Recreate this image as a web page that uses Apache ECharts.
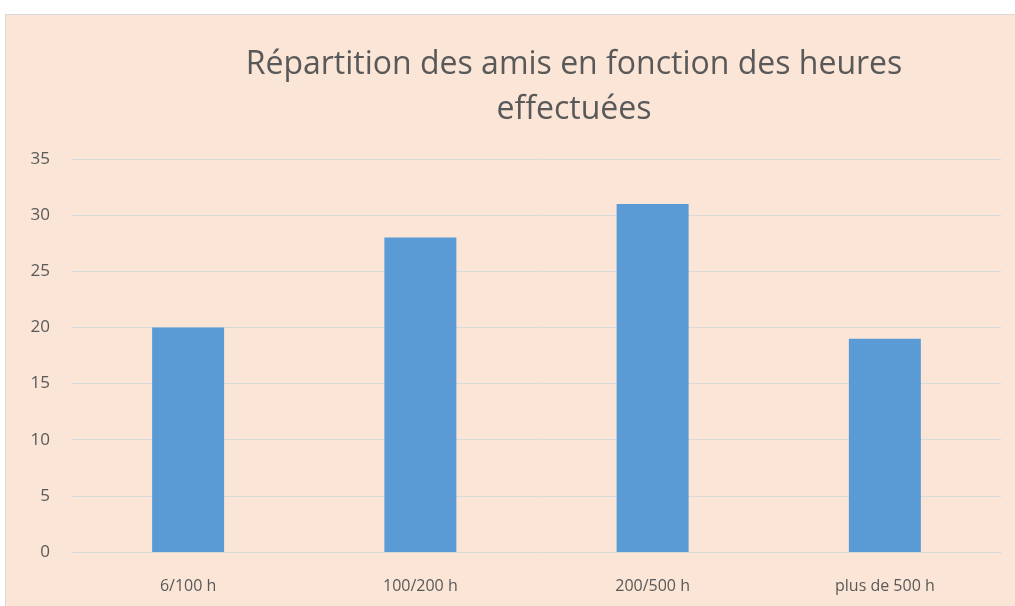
<!DOCTYPE html>
<html>
<head>
<meta charset="utf-8">
<script src="https://cdn.jsdelivr.net/npm/echarts@6/dist/echarts.min.js"></script>
<style>
html,body{margin:0;padding:0;background:#fff;width:1015px;height:606px;overflow:hidden;}
#c{position:absolute;left:5px;top:14px;width:1010px;height:592px;box-sizing:border-box;border-left:1px solid #D9D9D9;border-top:1px solid #D9D9D9;background:#FBE5D6;}
</style>
</head>
<body>
<div id="c"></div>
<script>
const titleText = 'Répartition des amis en fonction des heures\neffectuées';
const categories = ['6/100 h', '100/200 h', '200/500 h', 'plus de 500 h'];
const values = [20, 28, 31, 19];
const yTicks = {min: 0, max: 35, interval: 5};

const chart = echarts.init(document.getElementById('c'), null, {renderer: 'canvas'});
const FONT = '"Open Sans", "Noto Sans", sans-serif';
chart.setOption({
  backgroundColor: 'transparent',
  animation: false,
  title: {
    text: titleText,
    left: 563,
    top: 22,
    textAlign: 'center',
    textStyle: {
      fontFamily: FONT, fontSize: 32, fontWeight: 'normal', color: '#595959', lineHeight: 45
    }
  },
  grid: {left: 66, right: 14, top: 144, bottom: 54, containLabel: false},
  xAxis: {
    type: 'category',
    data: categories,
    axisLine: {show: true, lineStyle: {color: '#D9D9D9', width: 1}},
    axisTick: {show: false},
    axisLabel: {fontFamily: FONT, fontSize: 16, color: '#595959', margin: 26}
  },
  yAxis: {
    type: 'value',
    min: yTicks.min, max: yTicks.max, interval: yTicks.interval,
    axisLine: {show: false},
    axisTick: {show: false},
    splitLine: {lineStyle: {color: '#D9D9D9', width: 1}},
    axisLabel: {fontFamily: FONT, fontSize: 17, color: '#595959', margin: 22}
  },
  series: [{
    type: 'bar',
    data: values,
    barWidth: '31%',
    itemStyle: {color: '#5B9BD5'}
  }]
});
</script>
</body>
</html>
